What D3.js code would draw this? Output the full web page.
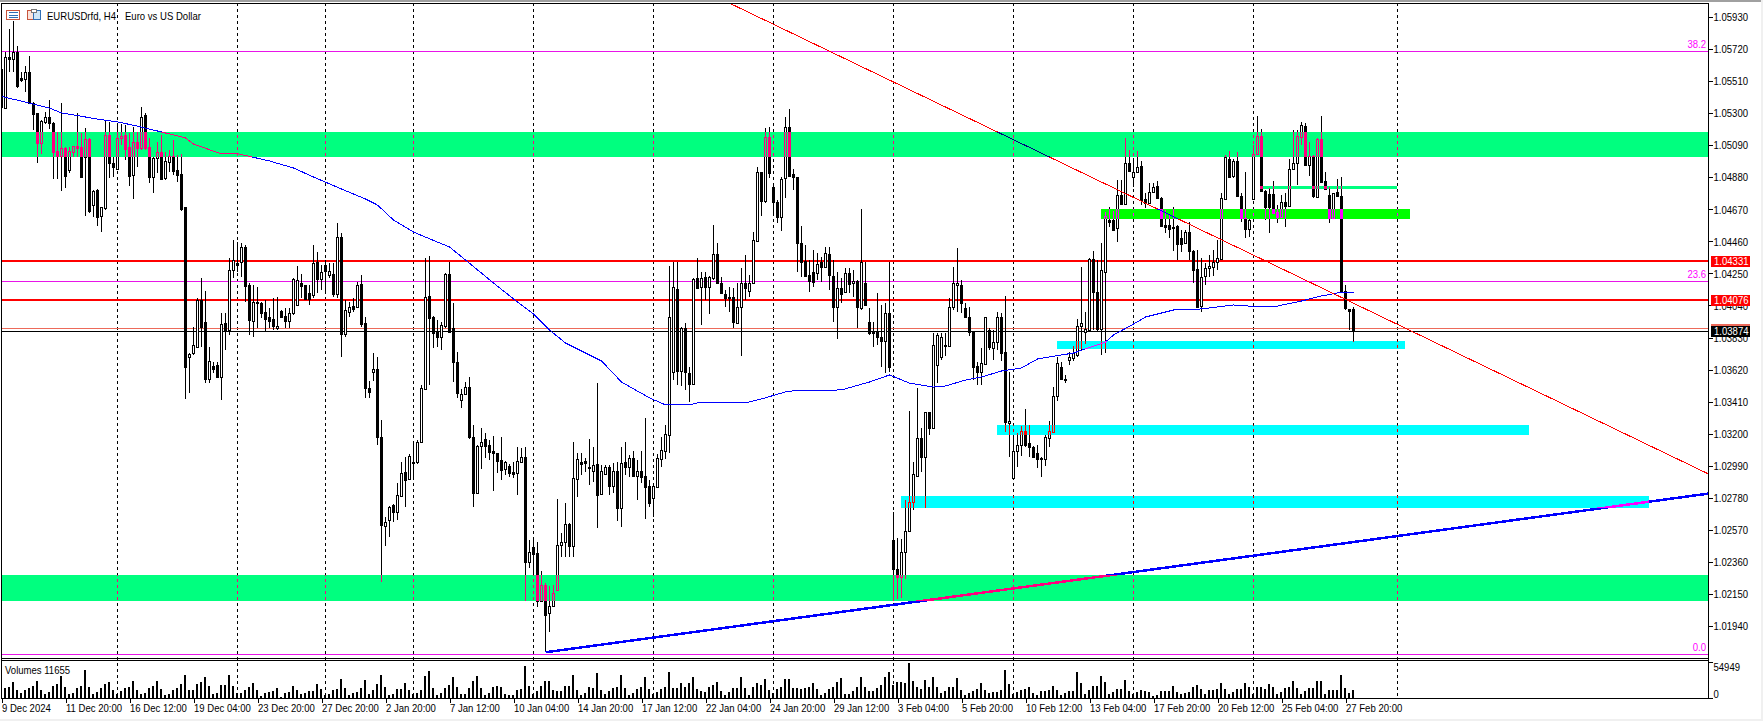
<!DOCTYPE html>
<html><head><meta charset="utf-8">
<script src="https://cdn.jsdelivr.net/npm/d3@7"></script>
<style>
html,body{margin:0;padding:0;background:#fff;overflow:hidden}
svg{display:block}
text{font-family:"Liberation Sans",sans-serif;font-size:11.5px;fill:#000}
.axis path{display:none}
.axis line{stroke:#000;shape-rendering:crispEdges}
.axis text{font-family:"Liberation Sans",sans-serif;font-size:11.5px;fill:#000}
</style></head><body>
<script>
// all prices are in points above 1.00000 (5591 = 1.05591)
// candles: open, high, low, close
const candlesDec=[[5591,5606,5333,5339],[5337,5704,5331,5667],[5667,5851,5573,5654],[5654,5905,5573,5704],[5704,5741,5464,5479],[5530,5570,5508,5519],[5523,5610,5442,5569],[5569,5676,5366,5370],[5370,5377,5191,5296],[5300,5304,4977,5108],[5108,5256,5034,5252],[5245,5311,5230,5278],[5278,5387,5195,5239],[5239,5245,4870,5049],[5053,5180,4870,5023],[5023,5366,4791,5071],[5071,5082,4808,4891],[4929,5082,4907,5055],[5049,5088,5016,5086],[5086,5300,5016,5075],[5082,5169,4874,4885],[5016,5202,4627,5130],[5130,5136,4645,4662],[4699,4798,4623,4791],[4798,4802,4562,4623],[4627,4688,4524,4684],[4677,5256,4666,5158],[5158,5245,4874,4972],[4972,5016,4885,4950],[4935,5235,4929,5136],[5136,5230,5093,5154],[5158,5224,4994,5066],[5077,5173,4824,4891],[4896,5213,4741,5114],[5114,5180,4950,5071],[5075,5339,5060,5278],[5289,5300,5060,5071],[5082,5136,4841,4885],[4885,5016,4780,5009],[5005,5114,4907,5044],[5047,5158,4863,4867],[4874,5049,4863,4988],[4983,5060,4918,5023],[5023,5125,4896,4924],[4929,5027,4852,4896],[4902,5034,4660,4671],[4684,4688,3427,3635],[3700,3727,3464,3720],[3727,3902,3716,3781],[3771,4087,3765,4076],[4076,4218,3771,3902],[3932,4136,3534,3556],[3556,3771,3534,3679],[3644,3672,3596,3622],[3650,3672,3574,3574],[3574,3989,3421,3919],[3924,3989,3749,3880],[3880,4350,3847,4273],[4273,4470,4218,4339],[4321,4459,4262,4308],[4328,4448,4229,4422],[4426,4437,4065,4168],[4175,4186,3847,3945],[3941,4175,3836,4065],[4065,4164,3891,4055],[4055,4065,3956,3993],[4000,4076,3875,3950],[3967,4022,3891,3941],[3950,4087,3880,3906],[3891,4098,3880,3906],[4007,4011,3956,3967],[3972,4022,3891,3941],[3941,4022,3891,3989],[3989,4218,3978,4212],[4044,4300,4040,4208],[4190,4247,4087,4168],[4175,4175,4076,4083],[4120,4175,4044,4083],[4109,4437,4087,4317],[4323,4393,4120,4212],[4212,4306,4142,4262],[4306,4339,4120,4269],[4240,4317,4219,4269],[4247,4317,4098,4116],[4116,4579,4087,4487],[4492,4513,3705,3851],[3851,4076,3836,4011],[4000,4065,3967,4028],[4037,4087,4000,4020],[4033,4197,4022,4175],[4181,4240,3897,3919],[3924,3967,3432,3497],[3497,3548,3432,3475],[3607,3727,3548,3622],[3622,3705,3126,3176]];
const candlesJan=[[3176,3290,2230,2601],[2597,2656,2464,2619],[2634,2726,2525,2717],[2730,2739,2623,2687],[2689,2875,2634,2798],[2791,3017,2787,2944],[2951,3049,2722,2896],[2901,3067,2896,3054],[3006,3148,2907,3017],[3017,3159,3001,3148],[3143,3519,3137,3497],[3491,4353,3486,4098],[4103,4365,3519,3961],[3967,3971,3760,3858],[3869,3945,3771,3836],[3836,3935,3749,3913],[3906,4251,3891,4247],[4247,4328,3862,3869],[3891,4055,3541,3672],[3672,3738,3432,3465],[3421,3491,3371,3458],[3458,3541,3453,3508],[3504,3569,3165,3176],[3176,3257,2722,2809],[2813,3126,2805,3119],[3119,3235,2966,3148],[3163,3202,3038,3119],[3126,3159,3027,3082],[3086,3185,2826,3071],[3071,3076,2940,3023],[3028,3180,2896,2962],[2966,3023,2929,3012],[2988,3000,2918,2940],[2947,3017,2907,2936],[2944,3111,2798,3021],[3017,3104,3006,3045],[3045,3111,2105,2361],[2361,2503,2317,2427],[2455,2525,2285,2411],[2416,2488,2066,2105],[2105,2302,2099,2208],[2208,2219,1767,2011],[2022,2202,1902,2073],[2073,2208,2066,2153],[2175,2770,2171,2470],[2470,2547,2394,2492],[2492,2743,2394,2608],[2608,2612,2389,2464],[2466,3148,2394,2907],[2901,3076,2783,3032],[3017,3076,2929,3000],[3021,3038,2951,3006],[2980,3163,2864,2975],[2955,3115,2885,2995],[3000,3530,2580,2798],[2802,2995,2798,2955],[2936,2995,2929,2979],[2979,2995,2798,2859],[2859,3006,2809,2955],[2955,3017,2630,2711],[2711,3111,2591,3010],[3017,3143,2929,2984],[2979,3060,2918,3038],[3038,3089,2918,2925],[2925,3027,2765,2958],[2958,3089,2875,2918],[2923,3301,2643,2853],[2857,2896,2722,2748],[2776,2864,2656,2857],[2853,3065,2848,3038],[3034,3180,2984,3093],[3089,3257,3032,3198],[3194,4299,3071,3967],[3607,4328,3552,4159],[4149,4328,3519,3613],[3613,3902,3513,3891],[3891,3923,3486,3607],[3596,3640,3410,3526],[3526,4223,3519,4214],[4218,4350,4146,4157],[4164,4262,3913,4223],[4225,4262,4076,4164],[4164,4234,3985,4225],[4218,4568,4207,4378],[4378,4448,4181,4186],[4190,4225,4116,4120],[4116,4142,4033,4087],[4098,4159,4000,4087],[4098,4153,3891,3934],[3928,4190,3919,4028],[4028,4284,3712,4186],[4186,4371,4076,4157],[4138,4240,4098,4186],[4186,4524,4181,4470],[4465,4946,4459,4913],[4913,4918,4627,4728],[4728,5206,4710,5143],[5143,5208,4874,4911],[4815,4841,4627,4721],[4721,4732,4583,4623],[4623,4881,4531,4870],[4874,5274,4743,5208],[5208,5328,4880,4889],[4902,4933,4797,4881],[4881,4885,4262,4448],[4448,4561,4229,4328],[4334,4437,4229,4236],[4240,4339,4131,4203],[4258,4404,4164,4197],[4251,4382,4207,4312],[4323,4360,4197,4295],[4295,4426,4284,4382],[4378,4426,4142,4240],[4234,4339,3930,4033],[4033,4262,3819,4153],[4153,4218,4055,4116],[4131,4284,4120,4251],[4256,4284,4120,4181],[4186,4273,4098,4203],[4203,4208,3891,4028],[4026,4673,4011,4328],[4186,4328,4037,4044],[3930,4022,3847,3858],[3858,3934,3766,3869],[3869,4120,3781,3836],[3836,4044,3639,3810],[3810,4055,3596,3989],[3989,4328,3607,3639]];
const candlesFeb=[[2503,2689,2105,2311],[2311,2514,2114,2258],[2258,2508,2121,2427],[2427,2765,2245,2564],[2564,3349,2558,2750],[2750,3017,2700,2934],[2925,3497,2918,3170],[3170,3235,2951,3049],[3049,3344,2715,3340],[3340,3344,3191,3239],[3235,3858,3228,3781],[3650,3858,3530,3847],[3705,3862,3683,3836],[3781,3858,3709,3777],[3777,4087,3770,4028],[4028,4295,4011,4186],[4175,4415,4000,4190],[4175,4207,3989,4055],[4022,4055,3956,3963],[3963,4033,3843,3864],[3864,3869,3552,3639],[3644,3672,3519,3607],[3607,3760,3519,3661],[3657,3967,3650,3963],[3880,3891,3749,3766],[3760,3880,3683,3803],[3803,4000,3749,3967],[3967,3993,3679,3731],[3738,4105,3213,3274],[3268,3606,3049,3283],[2907,3191,2901,3089],[3089,3202,2979,3126],[3126,3250,3054,3220],[3220,3360,3115,3126],[3137,3257,3049,3111],[3111,3119,3038,3049],[3071,3126,2973,3034],[3034,3049,2914,3038],[3034,3191,2988,3180],[3174,3285,3115,3218],[3213,3504,3206,3449],[3449,3705,3416,3661],[3639,3672,3552,3556],[3556,3585,3534,3552],[3683,3738,3650,3705],[3698,3775,3679,3727],[3716,3950,3705,3906],[3906,4295,3749,3923],[3869,4000,3788,3884],[3880,4354,3869,4345],[4343,4398,3880,4131],[4131,4339,3875,3884],[3884,4448,3716,4273],[4262,4655,3727,4627],[4601,4688,4557,4590],[4601,4662,4531,4535],[4546,4863,4459,4765],[4765,4863,4699,4706],[4706,5136,4699,4972],[4977,5060,4918,4922],[4885,5005,4819,4913],[4913,5055,4907,4946],[4955,4988,4699,4732],[4736,4776,4677,4714],[4714,4841,4710,4782],[4782,4841,4776,4815],[4824,4859,4736,4743],[4743,4749,4557,4561],[4568,4666,4513,4557],[4568,4633,4481,4542],[4546,4688,4400,4557],[4561,4568,4339,4444],[4481,4535,4393,4444],[4448,4535,4443,4522],[4522,4590,4339,4398],[4398,4404,4186,4273],[4280,4404,4033,4033],[4037,4350,4000,4229],[4234,4317,4175,4288],[4284,4371,4229,4299],[4295,4404,4234,4328],[4328,4470,4273,4350],[4345,4776,4339,4743],[4738,5027,4732,5012],[4998,5055,4874,4885],[4889,4998,4874,4990],[4990,5049,4754,4760],[4760,4776,4586,4612],[4612,4913,4485,4540],[4540,4605,4492,4601],[4738,5092,4732,5031],[5031,5283,5027,5151],[5151,5195,4787,4793],[4791,4798,4601,4684],[4769,4808,4518,4684],[4769,4859,4644,4649],[4655,4699,4583,4618],[4618,4765,4612,4721],[4721,4776,4553,4693],[4693,5000,4688,4933],[4933,5191,4929,4972],[4972,5191,4830,5151],[5147,5241,5092,5224],[5217,5235,4955,4961],[4961,5114,4889,5020],[5020,5027,4743,4758],[4754,5136,4749,5130],[5130,5283,4841,4848],[4856,4918,4798,4802],[4765,4819,4583,4616],[4616,4780,4612,4776],[4782,4867,4754,4758],[4758,4881,4124,4131],[4135,4175,4011,4022],[4015,4017,3880,4006],[4017,4033,3799,3874]];
// tick volume, thousands
const volumesDec=[12,15,16.5,24,12,7.5,12,15,18,25,12,6,9,18,21,33,16.5,6,7.5,15,18,42,16.5,6,9,15,21,24,12,6,10.5,15,16.5,25.5,12,6,7.5,15,18,25.5,13.5,4.5,6,12,15,21,34.5,12,12,21,24,31.5,18,6,7.5,19.5,19.5,34.5,18,7.5,7.5,12,16.5,22.5,12,3,7.5,9,10.5,15,1.5,7.5,9,18,12,6,7.5,10.5,10.5,21,13.5,4.5,6,12,13.5];
const volumesJan=[29,15,5,8,9,15,27,6,12,21,35,16.5,5,6,13.5,13.5,22.5,12,6,7.5,12,33,40.5,15,4.5,7.5,15,20,31.5,16.5,6,6,15,25.5,33,15,5,7.5,16.5,17.5,16.5,6,5,5,12,13.5,48,18,6,10.5,18,25.5,25.5,12,10.5,10.5,18,18,34.5,12,5,7.5,16.5,15,37.5,12,6,10,15,16.5,34.5,15,5,7.5,13.5,16.5,31.5,13.5,6,9,13.5,16.5,39,15,15];
const volumesFeb=[22.5,16.5,22.5,31.5,13.5,10.5,9,16.5,19.5,24,10.5,5,9,15,15,31.5,15,4.5,16.5,22.5,19.5,28.5,12,7.5,13.5,16.5,28.5,28.5,15,15,13.5,15,16.5,22.5,13.5,4.5,7.5,13.5,16.5,24,30,6,6,10.5,16.5,31.5,16.5,10.5,10.5,15,19.5,31.5,39,19.5,24,24,22.5,52,25.5,16.5,13.5,27,16.5,31.5,16.5,7.5,10.5,16.5,16.5,30,12,5,7.5,10.5,13.5,22.5,12,7.5,9,9,12,42,21,6,9];
const volumesLate=[12,13.5,16.5,7.5,4.5,10.5,10.5,12,18,12,4.5,7.5,10.5,10.5,39,22.5,6,12,18,18,33,24,6,9,13.5,13.5,27,10.5,6,9,12,10.5,9,3,4.5,10.5,10.5,10.5,18,9,6,7.5,9,16.5,19.5,13.5,6,12,12,13.5,22.5,13.5,6,9,13.5,13.5,22.5,16.5,6,16.5,16.5,13.5,21,16.5,6,9,15,16.5,25.5,15,6,10.5,15,15,25.5,25.5,6,12,12,12,34.5,15,7.5,11.655];
// moving average: bar index and level
const maBars=[0,7,12,15,24,29,34,40,46,48,55,59,67,73,78,85,91,94,98,103,106,112,116,123,129,133,137,141,150,155,162,166,172,174,186,190,196,198,210,217,222,227,233,236,241,245,250,255,259,268,276,278,283,286,293,300,308,315,319,325,330,334,338];
const maLevels=[5411,5368,5335,5303,5263,5244,5217,5178,5139,5099,5034,5036,4988,4942,4883,4804,4739,4699,4601,4522,4489,4424,4339,4188,4063,3985,3880,3795,3677,3539,3435,3389,3389,3402,3402,3428,3474,3481,3487,3539,3585,3532,3506,3513,3552,3572,3611,3631,3690,3729,3801,3847,3919,3965,4011,4018,4044,4031,4037,4070,4103,4123,4123];
const priceTicks=[5930,5720,5510,5300,5090,4880,4670,4460,4250,4040,3830,3620,3410,3200,2990,2780,2570,2360,2150,1940];
const timeTickBars=[0,16,32,48,64,80,96,112,128,144,160,176,192,208,224,240,256,272,288,304,320,336];
const timeTickLabels=["9 Dec 2024","11 Dec 20:00","16 Dec 12:00","19 Dec 04:00","23 Dec 20:00","27 Dec 20:00","2 Jan 20:00","7 Jan 12:00","10 Jan 04:00","14 Jan 20:00","17 Jan 12:00","22 Jan 04:00","24 Jan 20:00","29 Jan 12:00","3 Feb 04:00","5 Feb 20:00","10 Feb 12:00","13 Feb 04:00","17 Feb 20:00","20 Feb 12:00","25 Feb 04:00","27 Feb 20:00"];
const vlineBars=[29,59,81,103,133,163,193,223,253,283,313,349];
// zones: bar start, bar end, level top, level bottom, colour name
const zoneBars=[[0,426.7],[0,426.7],[274.9,352.1],[314.6,348.9],[263.95,350.9],[248.9,381.9],[224.9,411.9]];
const zoneLevels=[[5178,5016],[2274,2105],[4673,4608],[4824,4804],[3808,3757],[3257,3192],[2792,2716]];
const zoneColors=["#00ff7f","#00ff7f","#00ff00","#00ff7f","#00ffff","#00ffff","#00ffff"];
const fibLevels=[5706,4198,1759];
const fibLabels=["38.2","23.6","0.0"];
const redLevels=[4331,4076];
const askLevel=3885, bidLevel=3874;
const redTrend=[[181.9,6024],[426.6,2938]];
const blueTrend=[[136,1767],[426.6,2807]];
const volumeTop=54.949;

const W=1763,H=721;
const L=2,R=1708,T=3,B=658,VT=660,VB=698;
const px=p=>1+p/1e5;
const candles=[...candlesDec,...candlesJan,...candlesFeb];
const volumes=[...volumesDec,...volumesJan,...volumesFeb,...volumesLate];
const x=d3.scaleLinear().domain([0,426.625]).range([1.5,R]);
const y=d3.scaleLinear().domain([px(5930),px(1940)]).range([17.3,625.9]);
const yv=d3.scaleLinear().domain([0,volumeTop]).range([VB,661.5]);
const col=i=>Math.floor(x(i));
const ry=p=>Math.round(y(px(p)));

const svg=d3.select("body").append("svg").attr("width",W).attr("height",H);
svg.append("rect").attr("width",W).attr("height",H).attr("fill","#fff");

const blend=svg.append("g").style("isolation","isolate");
blend.append("rect").attr("width",W).attr("height",H).attr("fill","#fff");
svg.append("rect").attr("width",W).attr("height",2).attr("fill","#a0a0a0");
svg.append("rect").attr("y",719).attr("width",W).attr("height",2).attr("fill","#f0f0f0");
svg.append("rect").attr("x",1761).attr("width",2).attr("height",H).attr("fill","#f0f0f0");
svg.append("defs").append("clipPath").attr("id","plot").append("rect").attr("x",L).attr("y",T).attr("width",R-L).attr("height",B-T);
svg.select("defs").append("clipPath").attr("id","vol").append("rect").attr("x",L).attr("y",VT).attr("width",R-L).attr("height",VB-VT);
const crisp=s=>s.attr("shape-rendering","crispEdges");

// vertical dashed lines
crisp(blend.append("g").selectAll("line").data(vlineBars).join("line")
 .attr("x1",d=>col(d)+.5).attr("x2",d=>col(d)+.5).attr("y1",T).attr("y2",VB)
 .attr("stroke","#000").attr("stroke-dasharray","3,3"));

const main=blend.append("g").attr("clip-path","url(#plot)");
// horizontal lines
crisp(main.append("g").selectAll("line").data(fibLevels).join("line")
 .attr("x1",L).attr("x2",R).attr("y1",d=>ry(d)+.5).attr("y2",d=>ry(d)+.5).attr("stroke","#e815e8"));
crisp(main.append("g").selectAll("line").data(redLevels).join("line")
 .attr("x1",L).attr("x2",R).attr("y1",d=>ry(d)).attr("y2",d=>ry(d)).attr("stroke","#ff0000").attr("stroke-width",2));
crisp(main.append("line").attr("x1",L).attr("x2",R).attr("y1",ry(askLevel)-.5).attr("y2",ry(askLevel)-.5).attr("stroke","#ed6a5a"));
crisp(main.append("line").attr("x1",L).attr("x2",R).attr("y1",ry(bidLevel)+.5).attr("y2",ry(bidLevel)+.5).attr("stroke","#000"));

// candles
const cg=main.append("g").selectAll("g").data(candles).join("g");
crisp(cg.append("rect").attr("x",(d,i)=>col(i)).attr("width",1)
 .attr("y",d=>ry(d[1])).attr("height",d=>Math.max(1,ry(d[2])-ry(d[1]))).attr("fill","#000"));
crisp(cg.append("rect").attr("x",(d,i)=>col(i)-1).attr("width",3)
 .attr("y",d=>Math.min(ry(d[0]),ry(d[3]))).attr("height",d=>Math.max(1,Math.abs(ry(d[0])-ry(d[3]))+1))
 .attr("fill","#000"));
crisp(main.append("g").selectAll("rect").data(candles.map((d,i)=>[d,i]).filter(e=>e[0][3]>e[0][0]&&ry(e[0][0])-ry(e[0][3])>1)).join("rect")
 .attr("x",e=>col(e[1])).attr("width",1)
 .attr("y",e=>ry(e[0][3])+1).attr("height",e=>ry(e[0][0])-ry(e[0][3])-1).attr("fill","#fff"));

// moving average and trend lines
const lineP=d3.line().x(d=>x(d[0])).y(d=>y(px(d[1])));
crisp(main.append("path").datum(maBars.map((b,i)=>[b,maLevels[i]])).attr("d",lineP).attr("fill","none").attr("stroke","#0000ff"));
crisp(main.append("path").datum(redTrend).attr("d",lineP).attr("fill","none").attr("stroke","#ff0000"));
crisp(main.append("path").datum(blueTrend).attr("d",lineP).attr("fill","none").attr("stroke","#0000ff").attr("stroke-width",2.5));

// zones are inverted over what lies beneath, as the terminal draws them
const invert=c=>{const r=d3.rgb(c);return d3.rgb(255-r.r,255-r.g,255-r.b).formatHex();};
crisp(blend.append("g").selectAll("rect").data(zoneBars).join("rect")
 .attr("x",d=>Math.round(Math.max(L,x(d[0])))).attr("width",d=>Math.round(Math.min(R,x(d[1])))-Math.round(Math.max(L,x(d[0]))))
 .attr("y",(d,i)=>ry(zoneLevels[i][0])).attr("height",(d,i)=>ry(zoneLevels[i][1])-ry(zoneLevels[i][0]))
 .attr("fill",(d,i)=>invert(zoneColors[i])).style("mix-blend-mode","difference"));

// volumes
crisp(blend.append("g").attr("clip-path","url(#vol)").selectAll("rect").data(volumes).join("rect")
 .attr("x",(d,i)=>col(i)-1).attr("width",2).attr("y",d=>Math.round(yv(d))).attr("height",d=>VB-Math.round(yv(d))).attr("fill","#000"));

// frame
const frame=[[L-1,T,R,T],[L-1,B+.5,R,B+.5],[L-1,VT+.5,R,VT+.5],[L-1,VB+.5,R+4,VB+.5],[L-.5,T,L-.5,VB],[R+.5,T,R+.5,VB]];
crisp(svg.append("g").selectAll("line").data(frame).join("line").attr("x1",d=>d[0]).attr("y1",d=>d[1]).attr("x2",d=>d[2]).attr("y2",d=>d[3]).attr("stroke","#000"));

// axes
const priceAxis=svg.append("g").attr("class","axis").attr("transform",`translate(${R+.5},0)`)
 .call(d3.axisRight(d3.scaleLinear().domain(y.domain()).range(y.range().map(v=>Math.round(v)))).tickValues(priceTicks.map(px)).tickSize(4).tickPadding(1).tickFormat(d3.format(".5f")));
const timeAxis=svg.append("g").attr("class","axis").attr("transform",`translate(0,${VB+.5})`)
 .call(d3.axisBottom(x).tickValues(timeTickBars).tickSize(4).tickFormat((d,i)=>timeTickLabels[i]));
timeAxis.selectAll("text").attr("text-anchor","start").attr("dy","0").attr("y",13);
const volAxis=svg.append("g").attr("class","axis").attr("transform",`translate(${R+.5},0)`)
 .call(d3.axisRight(yv).tickValues([volumeTop,0]).tickSize(4).tickPadding(1).tickFormat(d=>d?"54949":"0"));
volAxis.selectAll("text").attr("dy",d=>d?"9":"-1");

// fibonacci labels
svg.append("g").selectAll("text").data(fibLevels).join("text").attr("x",R-2).attr("y",d=>ry(d)-3)
 .attr("text-anchor","end").style("fill","#ff00ff").text((d,i)=>fibLabels[i]);

// price tags
const tagData=[[redLevels[0],"#ff0000"],[redLevels[1],"#ff0000"],[bidLevel,"#000000"]];
svg.append("rect").attr("x",1711).attr("y",ry(bidLevel)-7).attr("width",39).attr("height",3).attr("fill","#ed6a5a");
const tags=svg.append("g").selectAll("g").data(tagData).join("g");
tags.append("rect").attr("x",1711).attr("y",d=>ry(d[0])-5).attr("width",39).attr("height",11).attr("fill",d=>d[1]);
tags.append("text").attr("x",1714).attr("y",d=>ry(d[0])+4).style("fill","#fff").text(d=>px(d[0]).toFixed(5));

// title
svg.append("text").attr("x",47).attr("y",20).text("EURUSDrfd, H4");
svg.append("text").attr("x",125).attr("y",20).text("Euro vs US Dollar");
svg.append("text").attr("x",5).attr("y",674).text("Volumes 11655");
const ic=svg.append("g").attr("shape-rendering","crispEdges");
ic.append("rect").attr("x",6.5).attr("y",10.5).attr("width",13).attr("height",9).attr("fill","#fff").attr("stroke","#c8553d");
[12.5,15,17.5].forEach(v=>ic.append("line").attr("x1",9).attr("x2",18).attr("y1",v).attr("y2",v).attr("stroke","#2f6fb5"));
ic.append("rect").attr("x",27.5).attr("y",10.5).attr("width",6).attr("height",9).attr("fill","#fbe3dc").attr("stroke","#c8553d");
ic.append("rect").attr("x",33.5).attr("y",10.5).attr("width",7).attr("height",9).attr("fill","#cfe6f7").attr("stroke","#2f6fb5");
ic.append("rect").attr("x",31.5).attr("y",9.5).attr("width",5).attr("height",3).attr("fill","#fff").attr("stroke","#777");

// the terminal's font is narrow: condense every label to its width
svg.selectAll("text").each(function(){
  const len=this.getComputedTextLength();
  d3.select(this).attr("textLength",(len*0.83).toFixed(1)).attr("lengthAdjust","spacingAndGlyphs");
});
</script>
</body></html>
